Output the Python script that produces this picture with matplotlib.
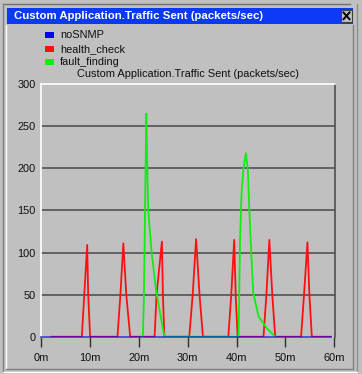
import matplotlib
matplotlib.use("Agg")
import matplotlib.pyplot as plt
from matplotlib.patches import Rectangle
from matplotlib.lines import Line2D

plt.rcParams['font.family'] = ['Liberation Sans', 'DejaVu Sans']

# ---- data ----
title = "Custom Application.Traffic Sent (packets/sec)"
series_names = ["noSNMP", "health_check", "fault_finding"]
series_colors = ["#0000ff", "#ff1010", "#10ee10"]

nosnmp_x = [0.0, 59.3]
nosnmp_y = [0, 0]

health_x = [2.1, 8.3, 8.8, 9.4, 9.6, 10.0,
            15.6, 16.2, 16.8, 17.4, 18.2,
            23.2, 23.6, 24.7, 24.9, 25.2,
            30.3, 31.0, 31.7, 32.4, 33.1,
            38.3, 38.9, 39.5, 39.8, 40.2,
            45.5, 46.1, 46.7, 47.3, 47.9,
            53.2, 53.8, 54.5, 54.9, 55.4,
            59.3]
health_y = [0, 0, 50, 109, 50, 0,
            0, 50, 111, 50, 0,
            0, 50, 113, 50, 0,
            0, 50, 116, 50, 0,
            0, 50, 115, 50, 0,
            0, 50, 115, 50, 0,
            0, 50, 112, 50, 0,
            0]

fault_x = [20.8, 21.0, 21.5, 21.7, 21.9, 22.6, 23.5, 25.2,
           40.4, 40.7, 41.0, 41.4, 41.9, 42.3, 42.6, 43.0, 43.4, 44.5, 46.2, 47.9]
fault_y = [0, 43, 265, 202, 150, 100, 55, 0,
           0, 115, 170, 200, 218, 198, 150, 99, 52, 24, 10, 0]

x_ticks = [0, 10, 20, 30, 40, 50, 60]
x_labels = ["0m", "10m", "20m", "30m", "40m", "50m", "60m"]
y_ticks = [0, 50, 100, 150, 200, 250, 300]

# ---- figure ----
W, H = 362, 374
BG = "#c0c0c0"
FS = 7.9
fig = plt.figure(figsize=(W / 100, H / 100), dpi=100, facecolor=BG)


def fx(x):
    return x / W


def fy(y):
    return 1 - y / H


def hline(x0, x1, y, color, lw=1.0):
    fig.add_artist(Line2D([fx(x0), fx(x1)], [fy(y), fy(y)], color=color, lw=lw,
                          transform=fig.transFigure))


def vline(x, y0, y1, color, lw=1.0):
    fig.add_artist(Line2D([fx(x), fx(x)], [fy(y0), fy(y1)], color=color, lw=lw,
                          transform=fig.transFigure))


# window borders
hline(3, 350, 4, "#707070")
vline(3, 4, 372, "#808080")
vline(6, 25, 369, "#ffffff")
vline(353, 25, 369, "#808080")
vline(357, 4, 372, "#909090")
hline(6, 353, 369, "#808080")
hline(3, 357, 371.5, "#ffffff")

# title bar
fig.add_artist(Rectangle((fx(7), fy(23.5)), fx(346), 15.2 / H, facecolor="#0a3af5",
                         edgecolor="none", transform=fig.transFigure))
fig.text(fx(14), fy(15.8), title, color="white", fontsize=8.2, fontweight="bold",
         ha="left", va="center")
# close button
fig.add_artist(Rectangle((fx(341), fy(21.7)), 11 / W, 11.7 / H, facecolor=BG,
                         edgecolor="#404040", lw=0.8, transform=fig.transFigure))
fig.add_artist(Line2D([fx(343.5), fx(349.5)], [fy(12.5), fy(19.2)], color="black", lw=1.4,
                      transform=fig.transFigure))
fig.add_artist(Line2D([fx(343.5), fx(349.5)], [fy(19.2), fy(12.5)], color="black", lw=1.4,
                      transform=fig.transFigure))

# legend
leg_y = [34.7, 49.3, 61.7]
for name, col, yy in zip(series_names, series_colors, leg_y):
    fig.add_artist(Rectangle((fx(45), fy(yy + 3)), 9.3 / W, 6 / H, facecolor=col,
                             edgecolor="none", transform=fig.transFigure))
    fig.text(fx(60), fy(yy), name, fontsize=FS, ha="left", va="center", color="#101010")

# subtitle
fig.text(fx(188), fy(74), title, fontsize=FS, ha="center", va="center", color="#101010")

# axes
ax_left, ax_right = 41.3, 335.5
ax_top, ax_bot = 84.1, 337.4
ax = fig.add_axes([fx(ax_left), fy(ax_bot), (ax_right - ax_left) / W, (ax_bot - ax_top) / H])
ax.set_facecolor(BG)
ax.set_xlim(0, 60 * (ax_right - ax_left) / 293.0)
ax.set_ylim(-0.8, 300)

for yv in y_ticks[1:-1]:
    ax.axhline(yv, color="#484848", lw=1.1, zorder=1)

ax.plot(health_x, health_y, color=series_colors[1], lw=1.3, zorder=3)
ax.plot(fault_x, fault_y, color=series_colors[2], lw=1.3, zorder=3)
ax.plot(nosnmp_x, nosnmp_y, color=series_colors[0], lw=1.4, alpha=0.6, zorder=4,
        clip_on=False)

ax.spines['left'].set_color("white")
ax.spines['top'].set_color("white")
ax.spines['right'].set_color("#505050")
ax.spines['bottom'].set_visible(False)
for s in ax.spines.values():
    s.set_linewidth(1.2)

ax.set_xticks(x_ticks)
ax.set_xticklabels(x_labels)
ax.set_yticks(y_ticks)
ax.tick_params(axis='y', length=0, pad=4, labelsize=FS, labelcolor="#101010")
ax.tick_params(axis='x', direction='out', length=7, width=1.0, color="#303030",
               pad=4, labelsize=FS, labelcolor="#101010")

fig.savefig("out.png", dpi=100, facecolor=BG)
